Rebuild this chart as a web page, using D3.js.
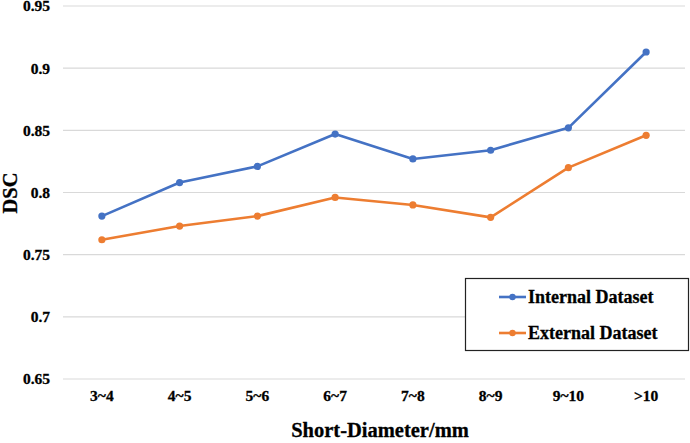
<!DOCTYPE html>
<html><head><meta charset="utf-8">
<script src="https://cdn.jsdelivr.net/npm/d3@7"></script>
<style>body{margin:0;background:#fff}svg{display:block}text{font-family:"Liberation Serif","Times New Roman",Times,serif !important;font-weight:bold;fill:#000;stroke:#000;stroke-width:0.3px}</style>
</head><body><svg id="c" width="690" height="443"></svg>
<script>
const categories = ["3~4","4~5","5~6","6~7","7~8","8~9","9~10",">10"];
const internalValues = [0.781,0.808,0.821,0.847,0.827,0.834,0.852,0.913];
const externalValues = [0.762,0.773,0.781,0.796,0.790,0.780,0.820,0.846];
const yTicks = [0.65,0.7,0.75,0.8,0.85,0.9,0.95];
const seriesNames = ["Internal Dataset","External Dataset"];
const colors = ["#4472C4","#ED7D31"];

const svg = d3.select("#c");
const x = d3.scaleBand().domain(categories).range([63,685]);
const y = d3.scaleLinear().domain([0.65,0.95]).range([379,6]);

svg.append("g").selectAll("line").data(yTicks).join("line")
  .attr("x1",63).attr("x2",685).attr("y1",d=>y(d)).attr("y2",d=>y(d))
  .attr("stroke","#d9d9d9").attr("stroke-width",1.2);

const yAxis = svg.append("g").attr("transform","translate(63,0)")
  .call(d3.axisLeft(y).tickValues(yTicks).tickFormat(d=>String(d)).tickSize(0).tickPadding(13));
yAxis.select(".domain").remove();
yAxis.selectAll("text").style("font-size","15.5px").attr("fill","#000");

const xAxis = svg.append("g").attr("transform","translate(0,379)")
  .call(d3.axisBottom(x).tickSize(0).tickPadding(11));
xAxis.select(".domain").remove();
xAxis.selectAll("text").style("font-size","15.5px").attr("fill","#000");

const data = [internalValues, externalValues];
const line = d3.line().x((d,i)=>x(categories[i])+x.bandwidth()/2).y(d=>y(d));
data.forEach((vals,k)=>{
  svg.append("path").datum(vals).attr("d",line).attr("fill","none")
    .attr("stroke",colors[k]).attr("stroke-width",2.6).attr("stroke-linejoin","round");
  svg.append("g").selectAll("circle").data(vals).join("circle")
    .attr("cx",(d,i)=>x(categories[i])+x.bandwidth()/2).attr("cy",d=>y(d))
    .attr("r",3.6).attr("fill",colors[k]);
});

svg.append("text").attr("x",380).attr("y",437).attr("text-anchor","middle")
  .style("font-size","20.5px").text("Short-Diameter/mm");
svg.append("text").attr("transform","translate(17,193) rotate(-90)").attr("text-anchor","middle")
  .style("font-size","20.5px").text("DSC");

const lg = svg.append("g");
lg.append("rect").attr("x",465.5).attr("y",278.5).attr("width",223).attr("height",72)
  .attr("fill","#fff").attr("stroke","#222").attr("stroke-width",1.2);
seriesNames.forEach((n,k)=>{
  const yy = 297 + k*36;
  lg.append("line").attr("x1",499).attr("x2",526).attr("y1",yy).attr("y2",yy)
    .attr("stroke",colors[k]).attr("stroke-width",2.6);
  lg.append("circle").attr("cx",512.5).attr("cy",yy).attr("r",3.2).attr("fill",colors[k]);
  lg.append("text").attr("x",528).attr("y",yy+6).style("font-size","18px").text(n);
});
</script></body></html>
